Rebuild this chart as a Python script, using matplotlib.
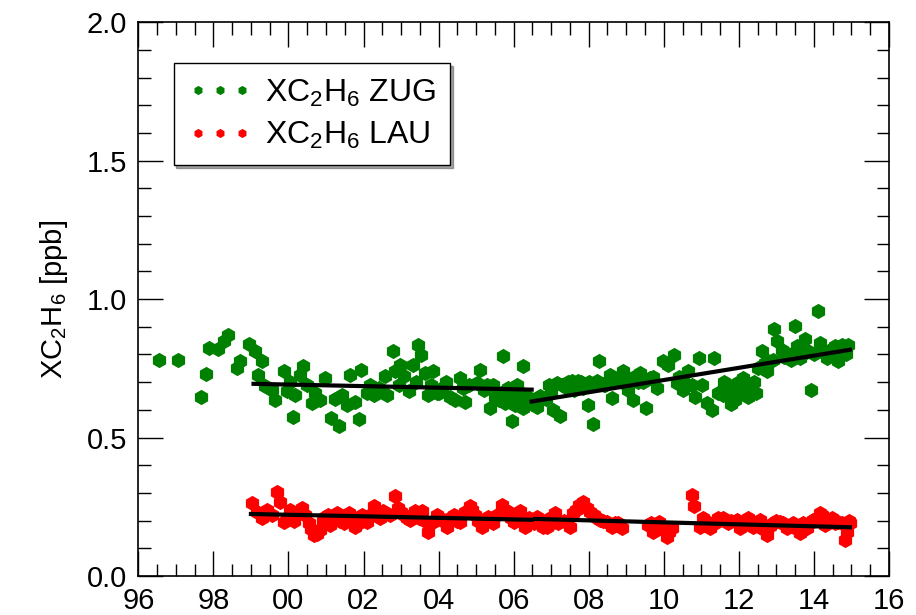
import matplotlib.pyplot as plt
from matplotlib.ticker import MultipleLocator

plt.rcParams['font.family'] = ['Liberation Sans', 'DejaVu Sans']
plt.rcParams['mathtext.fontset'] = 'custom'
plt.rcParams['mathtext.rm'] = 'Liberation Sans'
plt.rcParams['mathtext.it'] = 'Liberation Sans'

# ZUG (verde) - anio decimal, ppb
zug_anio = [1996.54, 1997.05, 1997.68, 1997.80, 1997.87, 1998.11, 1998.27, 1998.38, 1998.63, 1998.72,
            1998.94, 1999.12, 1999.29, 1999.20, 1999.38, 1999.56, 1999.65, 1999.87, 1999.96, 2000.12,
            2000.18, 2000.31, 2000.39, 2000.49, 2000.62, 2000.85, 2000.98, 2001.13, 2001.36, 2001.42,
            2001.56, 2001.65, 2001.78, 2001.87, 2001.93, 2002.09, 2002.27, 2002.18, 2002.58, 2002.62,
            2002.78, 2002.84, 2002.98, 2003.07, 2003.20, 2003.33, 2003.45, 2003.53, 2003.64, 2003.73,
            2003.86, 2003.95, 2004.10, 2004.20, 2004.31, 2004.44, 2004.58, 2004.71, 2004.80, 2005.02,
            2005.11, 2005.29, 2005.37, 2005.51, 2005.60, 2005.71, 2005.77, 2005.80, 2005.90, 2005.95,
            2006.04, 2006.10, 2006.20, 2006.26, 2006.26, 2006.39, 2006.62, 2006.79, 2006.93, 2007.06,
            2007.15, 2007.24, 2007.30, 2007.41, 2007.55, 2007.60, 2007.72, 2007.86, 2007.99, 2008.00,
            2008.11, 2008.21, 2008.28, 2008.40, 2008.44, 2008.57, 2008.61, 2008.75, 2008.90, 2008.92,
            2009.05, 2009.10, 2009.19, 2009.30, 2009.37, 2009.53, 2009.63, 2009.81, 2009.99, 2010.12,
            2010.26, 2010.34, 2010.50, 2010.52, 2010.74, 2010.83, 2010.95, 2011.01, 2011.14, 2011.28,
            2011.34, 2011.59, 2011.60, 2011.72, 2011.80, 2011.90, 2011.94, 2012.00, 2012.12, 2012.25,
            2012.34, 2012.47, 2012.50, 2012.61, 2012.74, 2012.79, 2012.90, 2012.94, 2013.01, 2013.14,
            2013.20, 2013.36, 2013.40, 2013.50, 2013.63, 2013.76, 2013.85, 2013.92, 2014.00, 2014.11,
            2014.16, 2014.34, 2014.43, 2014.50, 2014.60, 2014.65, 2014.74, 2014.80, 2014.92,
            2005.65, 2005.85, 2006.00, 2006.15, 2006.35, 2006.50, 2006.70, 2006.85, 2007.00, 2007.45,
            2007.80, 2008.15, 2008.50, 2008.80, 2009.20, 2009.45, 2009.70, 2010.40, 2010.65, 2011.45,
            2011.78, 2012.15, 2012.40, 2012.70, 2013.30, 2013.55, 2013.70, 2014.25, 2014.55, 2014.85,
            2000.05, 2000.70, 2001.25, 2002.40, 2002.95, 2003.40, 2003.80, 2004.00, 2004.65, 2005.20,
            2005.45]
zug_xc2h6 = [0.781, 0.781, 0.648, 0.730, 0.823, 0.820, 0.847, 0.872, 0.751, 0.775,
             0.839, 0.811, 0.775, 0.727, 0.685, 0.673, 0.637, 0.739, 0.667, 0.574,
             0.655, 0.727, 0.757, 0.691, 0.625, 0.637, 0.715, 0.570, 0.540, 0.655,
             0.618, 0.727, 0.630, 0.568, 0.745, 0.661, 0.655, 0.691, 0.721, 0.655,
             0.811, 0.739, 0.763, 0.721, 0.667, 0.763, 0.835, 0.799, 0.733, 0.655,
             0.739, 0.661, 0.680, 0.700, 0.648, 0.637, 0.715, 0.630, 0.691, 0.697,
             0.745, 0.691, 0.607, 0.648, 0.637, 0.793, 0.625, 0.660, 0.640, 0.558,
             0.618, 0.691, 0.660, 0.757, 0.607, 0.648, 0.612, 0.643, 0.691, 0.600,
             0.697, 0.576, 0.690, 0.679, 0.703, 0.670, 0.703, 0.679, 0.618, 0.700,
             0.550, 0.703, 0.775, 0.690, 0.691, 0.727, 0.643, 0.709, 0.700, 0.739,
             0.673, 0.710, 0.637, 0.700, 0.733, 0.607, 0.715, 0.679, 0.775, 0.763,
             0.799, 0.697, 0.720, 0.673, 0.691, 0.648, 0.787, 0.691, 0.625, 0.600,
             0.787, 0.655, 0.700, 0.685, 0.660, 0.637, 0.697, 0.690, 0.715, 0.648,
             0.685, 0.661, 0.750, 0.811, 0.739, 0.775, 0.780, 0.892, 0.847, 0.817,
             0.790, 0.799, 0.780, 0.902, 0.787, 0.856, 0.811, 0.673, 0.800, 0.957,
             0.842, 0.787, 0.817, 0.800, 0.810, 0.775, 0.835, 0.820, 0.835,
             0.660, 0.680, 0.650, 0.640, 0.630, 0.620, 0.650, 0.640, 0.660, 0.700,
             0.700, 0.690, 0.700, 0.720, 0.720, 0.700, 0.720, 0.720, 0.740, 0.660,
             0.620, 0.660, 0.700, 0.770, 0.800, 0.830, 0.800, 0.810, 0.830, 0.800,
             0.700, 0.660, 0.640, 0.680, 0.690, 0.700, 0.690, 0.660, 0.680, 0.670,
             0.690]

# LAU (rojo)
lau_anio = [1999.03, 1999.29, 1999.43, 1999.69, 1999.78, 1999.87, 2000.05, 2000.27, 2000.36, 2000.54,
            2000.67, 2000.85, 2000.98, 2001.11, 2001.29, 2001.47, 2001.60, 2001.78, 2001.96, 2002.09,
            2002.27, 2002.36, 2002.53, 2002.84, 2002.93, 2003.07, 2003.24, 2003.38, 2003.56, 2003.73,
            2003.86, 2004.04, 2004.22, 2004.40, 2004.58, 2004.84, 2004.97, 2005.15, 2005.33, 2005.46,
            2005.69, 2005.82, 2006.00, 2006.17, 2006.31, 2006.48, 2006.62, 2006.79, 2006.88, 2007.11,
            2007.19, 2007.50, 2007.59, 2007.73, 2007.86, 2007.95, 2008.13, 2008.30, 2008.48, 2008.61,
            2008.79, 2008.88, 2009.59, 2009.72, 2009.86, 2010.08, 2010.21, 2010.74, 2010.81, 2010.97,
            2011.05, 2011.23, 2011.37, 2011.59, 2011.94, 2012.03, 2012.25, 2012.39, 2012.56, 2012.74,
            2012.92, 2013.10, 2013.27, 2013.45, 2013.63, 2013.81, 2013.98, 2014.16, 2014.29, 2014.47,
            2014.65, 2014.83, 2014.96,
            1999.15, 1999.55, 1999.95, 2000.15, 2000.45, 2000.60, 2000.75, 2000.92, 2001.05, 2001.20,
            2001.38, 2001.70, 2001.88, 2002.18, 2002.45, 2002.70, 2003.00, 2003.15, 2003.30, 2003.47,
            2003.65, 2003.95, 2004.13, 2004.31, 2004.49, 2004.70, 2004.90, 2005.06, 2005.24, 2005.55,
            2005.76, 2005.92, 2006.08, 2006.24, 2006.40, 2006.55, 2006.70, 2006.97, 2007.03, 2007.35,
            2007.66, 2007.80, 2008.04, 2008.22, 2008.39, 2008.70, 2009.65, 2009.79, 2009.95, 2010.15,
            2011.12, 2011.30, 2011.45, 2011.70, 2011.80, 2012.10, 2012.32, 2012.47, 2012.65, 2012.83,
            2013.00, 2013.18, 2013.36, 2013.55, 2013.72, 2013.90, 2014.07, 2014.22, 2014.38, 2014.56,
            2014.74, 2014.88, 2014.93]
lau_xc2h6 = [0.263, 0.209, 0.239, 0.305, 0.269, 0.196, 0.239, 0.227, 0.245, 0.191,
             0.148, 0.166, 0.214, 0.184, 0.227, 0.191, 0.227, 0.178, 0.221, 0.196,
             0.251, 0.233, 0.233, 0.289, 0.245, 0.221, 0.203, 0.233, 0.233, 0.160,
             0.196, 0.209, 0.178, 0.221, 0.196, 0.251, 0.221, 0.178, 0.214, 0.191,
             0.257, 0.233, 0.196, 0.233, 0.178, 0.203, 0.214, 0.178, 0.178, 0.227,
             0.191, 0.178, 0.227, 0.257, 0.269, 0.245, 0.221, 0.203, 0.196, 0.178,
             0.191, 0.172, 0.184, 0.160, 0.196, 0.142, 0.172, 0.293, 0.251, 0.178,
             0.209, 0.172, 0.191, 0.209, 0.203, 0.172, 0.209, 0.178, 0.203, 0.148,
             0.191, 0.196, 0.172, 0.191, 0.154, 0.172, 0.203, 0.227, 0.184, 0.209,
             0.196, 0.130, 0.191,
             0.230, 0.220, 0.210, 0.200, 0.220, 0.170, 0.150, 0.200, 0.220, 0.210,
             0.200, 0.210, 0.190, 0.220, 0.210, 0.220, 0.230, 0.210, 0.220, 0.210,
             0.200, 0.220, 0.200, 0.210, 0.200, 0.230, 0.240, 0.200, 0.200, 0.220,
             0.240, 0.210, 0.220, 0.200, 0.210, 0.190, 0.200, 0.210, 0.190, 0.200,
             0.240, 0.250, 0.230, 0.210, 0.200, 0.190, 0.190, 0.180, 0.170, 0.160,
             0.200, 0.190, 0.210, 0.190, 0.200, 0.190, 0.200, 0.190, 0.170, 0.180,
             0.200, 0.190, 0.180, 0.170, 0.190, 0.190, 0.210, 0.220, 0.200, 0.190,
             0.190, 0.160, 0.200]

# tendencias (inicio, fin)
zug_t1_anio = [1999.07, 2006.48]
zug_t1_val = [0.694, 0.673]
zug_t2_anio = [2006.48, 2014.96]
zug_t2_val = [0.630, 0.817]
lau_t1_anio = [1999.00, 2006.48]
lau_t1_val = [0.224, 0.203]
lau_t2_anio = [2006.57, 2014.96]
lau_t2_val = [0.206, 0.176]

anios_ticks = list(range(1996, 2017, 2))
etiquetas_x = ['%02d' % (a % 100) for a in anios_ticks]

fig = plt.figure(figsize=(9.16, 6.15), dpi=100)
ax = fig.add_axes([0.151, 0.0634, 0.8195, 0.9006])

ax.plot(zug_anio, zug_xc2h6, 'h', color='green', ms=11, mec='none', label='XC$_2$H$_6$ ZUG')
ax.plot(lau_anio, lau_xc2h6, 'h', color='red', ms=11, mec='none', label='XC$_2$H$_6$ LAU')

for xs, ys in [(zug_t1_anio, zug_t1_val), (zug_t2_anio, zug_t2_val),
               (lau_t1_anio, lau_t1_val), (lau_t2_anio, lau_t2_val)]:
    ax.plot(xs, ys, color='black', lw=3)

ax.set_xlim(1996, 2016)
ax.set_ylim(0, 2.0)
ax.set_xticks(anios_ticks)
ax.set_xticklabels(etiquetas_x)
ax.xaxis.set_minor_locator(MultipleLocator(0.5))
ax.yaxis.set_major_locator(MultipleLocator(0.5))
ax.yaxis.set_minor_locator(MultipleLocator(0.1))
ax.yaxis.set_major_formatter(plt.FormatStrFormatter('%.1f'))

ax.tick_params(which='both', direction='in', top=True, right=True, labelsize=21, width=1)
ax.tick_params(which='major', length=18, pad=8)
ax.tick_params(which='minor', length=9)
for s in ax.spines.values():
    s.set_linewidth(1.2)

ax.set_ylabel('XC$_2$H$_6$ [ppb]', fontsize=21, labelpad=12)

leg = ax.legend(loc='upper left', bbox_to_anchor=(0.047, 0.926), borderaxespad=0,
                numpoints=3, markerscale=0.6, fontsize=23, fancybox=False, shadow=True,
                handlelength=2.0, handletextpad=0.4, labelspacing=0.35, borderpad=0.45)
leg.get_frame().set_edgecolor('black')
leg.get_frame().set_linewidth(1)

plt.savefig('out.png', dpi=100)
